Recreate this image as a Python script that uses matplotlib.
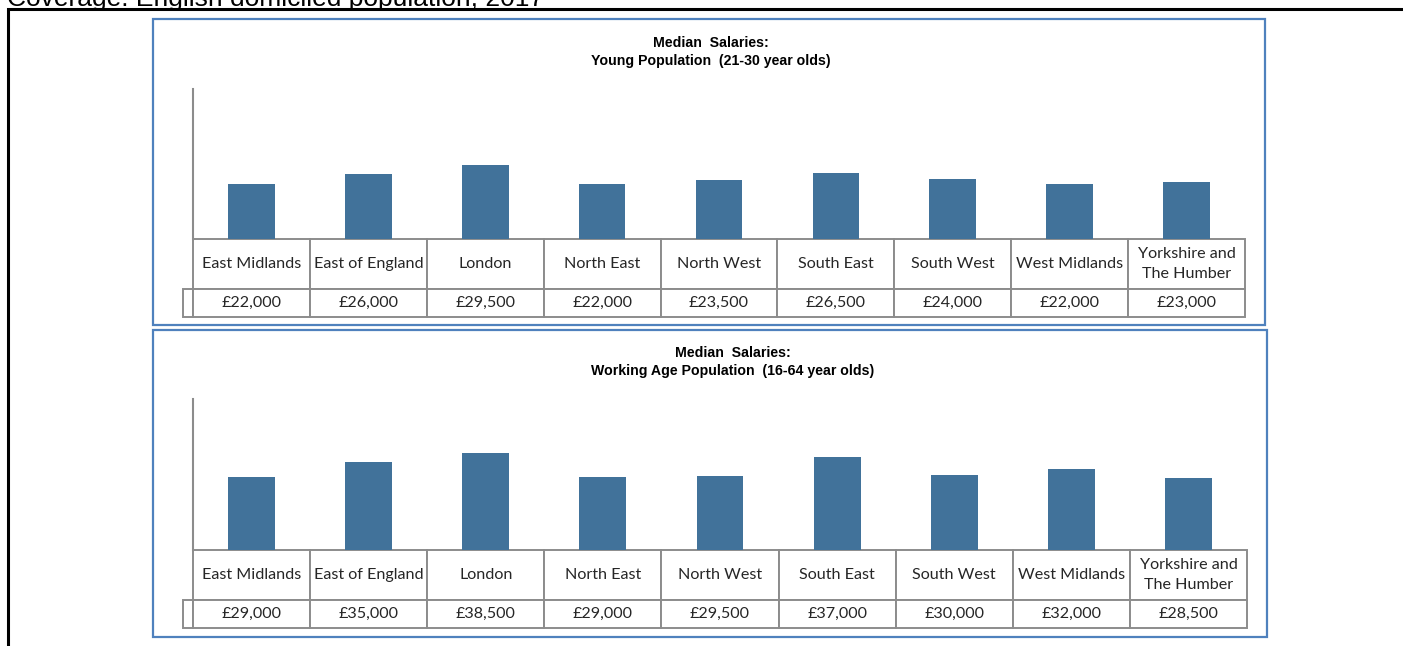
import matplotlib.pyplot as plt
from matplotlib.patches import Rectangle

W, H = 1403, 646
BAR_COLOR = '#41729A'
FRAME_BLUE = '#4F81BD'
GRID_GRAY = '#8C8C8C'

regions = ['East Midlands', 'East of England', 'London', 'North East', 'North West',
           'South East', 'South West', 'West Midlands', 'Yorkshire and\nThe Humber']
young_salary = [22000, 26000, 29500, 22000, 23500, 26500, 24000, 22000, 23000]
working_salary = [29000, 35000, 38500, 29000, 29500, 37000, 30000, 32000, 28500]

panel_titles = ['Median  Salaries:\nYoung Population  (21-30 year olds)',
                'Median  Salaries:\nWorking Age Population  (16-64 year olds)']

plt.rcParams['font.family'] = ['Liberation Sans', 'DejaVu Sans']


def px_rect(x0, y0, x1, y1):
    # pixel box (top-left origin) -> figure fraction [left, bottom, width, height]
    return [x0 / W, 1 - y1 / H, (x1 - x0) / W, (y1 - y0) / H]


def salary_panel(fig, values, title, frame, axes_box, title_xy):
    # Blue frame around the chart
    fl, fb, fw, fh = px_rect(*frame)
    fig.patches.append(Rectangle((fl, fb), fw, fh, transform=fig.transFigure,
                                 fill=False, edgecolor=FRAME_BLUE, lw=1.6))
    fig.text(title_xy[0] / W, 1 - title_xy[1] / H, title, ha='center', va='top',
             fontsize=10.2, fontweight='bold', linespacing=1.35)

    ax = fig.add_axes(px_rect(*axes_box))
    n = len(values)
    xs = [i + 0.5 for i in range(n)]
    ax.bar(xs, values, width=0.4, color=BAR_COLOR)
    ax.set_xlim(0, n)
    ax.set_ylim(0, 60000)
    ax.set_xticks([])
    ax.set_yticks([])
    for side in ['top', 'right', 'bottom']:
        ax.spines[side].set_visible(False)
    ax.spines['left'].set_color(GRID_GRAY)
    ax.spines['left'].set_linewidth(1.5)

    # Data table under the bars: header row of regions, value row with an empty key cell
    ax_w = axes_box[2] - axes_box[0]
    ax_h = axes_box[3] - axes_box[1]
    key_w = 10
    head_h, val_h = 50, 28
    tbl = ax.table(cellText=[[f'£{v:,}' for v in values]],
                   colLabels=regions, rowLabels=[''],
                   colWidths=[1 / n] * n, cellLoc='center',
                   bbox=[0, -(head_h + val_h) / ax_h, 1, (head_h + val_h) / ax_h])
    tbl._autoColumns = []
    tbl.auto_set_font_size(False)
    tbl.set_fontsize(11.6)
    for (r, c), cell in tbl.get_celld().items():
        cell.set_edgecolor(GRID_GRAY)
        cell.set_linewidth(1.4)
        txt = cell.get_text()
        txt.set_fontfamily('Lato')
        txt.set_color('#262626')
        txt.set_linespacing(1.5)
        cell.set_height(head_h if r == 0 else val_h)
        if c == -1:
            cell.set_width(key_w / ax_w)
    return ax


fig = plt.figure(figsize=(W / 100, H / 100), dpi=100, facecolor='white')

fig.text(7 / W, 1 - 6 / H, 'Coverage: English domiciled population, 2017',
         ha='left', va='baseline', fontsize=19, color='black')
fig.patches.append(Rectangle((8 / W, -0.1), 1.2, 1 - 9 / H + 0.1, transform=fig.transFigure,
                             fill=False, edgecolor='black', lw=2.2))

salary_panel(fig, young_salary, panel_titles[0],
             (153, 19, 1265, 325), (193, 89, 1245, 239), (711, 36))
salary_panel(fig, working_salary, panel_titles[1],
             (153, 330, 1267, 637), (193, 399, 1247, 550), (733, 346))

fig.savefig('out.png', dpi=100)
